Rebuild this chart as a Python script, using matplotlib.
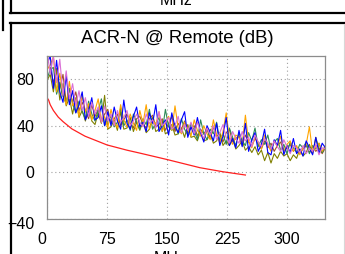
import matplotlib
matplotlib.use("Agg")
import matplotlib.pyplot as plt
from matplotlib.lines import Line2D
from matplotlib.transforms import ScaledTranslation

plt.rcParams['font.family'] = ['Liberation Sans', 'DejaVu Sans']

freq = [1, 4, 8, 12, 16, 20, 24, 28, 32, 36, 40, 44, 48, 52, 56, 60, 64, 68, 72, 76,
        80, 84, 88, 92, 96, 100, 104, 108, 112, 116, 120, 124, 128, 132, 136, 140, 144, 148, 152, 156,
        160, 164, 168, 172, 176, 180, 184, 188, 192, 196, 200, 204, 208, 212, 216, 220, 224, 228, 232, 236,
        240, 244, 248, 252, 256, 260, 264, 268, 272, 276, 280, 284, 288, 292, 296, 300, 304, 308, 312, 316,
        320, 324, 328, 332, 336, 340, 344, 348]

blue = [94, 100, 72, 96, 69, 60, 83, 58, 70, 51,
        58, 69, 45, 52, 64, 45, 47, 57, 40, 52,
        40, 56, 44, 37, 62, 42, 37, 48, 56, 39,
        43, 35, 51, 42, 58, 35, 40, 45, 32, 51,
        39, 34, 45, 52, 30, 39, 32, 47, 34, 26,
        40, 34, 27, 42, 23, 31, 47, 23, 29, 21,
        36, 22, 42, 18, 28, 34, 18, 24, 37, 17,
        15, 28, 23, 36, 15, 23, 17, 29, 16, 20,
        14, 27, 21, 15, 30, 16, 25, 21]

orange = [89, 92, 99, 69, 85, 67, 58, 78, 57, 62,
          48, 66, 52, 59, 45, 53, 63, 43, 48, 38,
          54, 43, 38, 58, 45, 39, 50, 42, 36, 53,
          42, 58, 37, 45, 41, 52, 35, 42, 48, 36,
          57, 38, 33, 43, 37, 31, 45, 36, 31, 40,
          33, 28, 45, 32, 25, 35, 51, 29, 24, 32,
          30, 24, 49, 26, 21, 30, 26, 20, 32, 24,
          18, 27, 22, 31, 18, 24, 27, 18, 23, 15,
          21, 24, 39, 17, 22, 25, 18, 23]

green = [82, 88, 90, 67, 77, 65, 59, 72, 59, 51,
         61, 52, 46, 61, 50, 44, 53, 63, 40, 45,
         48, 39, 43, 55, 40, 45, 36, 50, 43, 37,
         46, 41, 54, 37, 42, 47, 35, 54, 39, 36,
         42, 33, 46, 37, 32, 42, 36, 28, 45, 33,
         28, 37, 33, 43, 27, 33, 24, 38, 30, 23,
         34, 27, 23, 34, 27, 38, 22, 28, 24, 32,
         19, 26, 29, 19, 24, 16, 26, 21, 17, 24,
         21, 26, 16, 23, 20, 25, 17, 22]

olive = [80, 84, 69, 89, 62, 76, 57, 64, 50, 64,
         47, 53, 44, 57, 44, 41, 51, 42, 66, 37,
         39, 45, 36, 52, 37, 38, 47, 35, 43, 36,
         44, 34, 37, 47, 35, 37, 44, 33, 35, 41,
         32, 33, 38, 30, 41, 30, 31, 27, 36, 27,
         28, 33, 25, 27, 34, 23, 27, 23, 29, 20,
         23, 27, 19, 22, 17, 22, 15, 19, 10, 17,
         8, 16, 12, 18, 14, 16, 10, 15, 12, 20,
         14, 17, 24, 16, 30, 20, 17, 23]

orchid = [100, 84, 100, 77, 97, 66, 87, 63, 76, 57,
          70, 53, 64, 48, 60, 50, 56, 43, 57, 44,
          50, 40, 53, 43, 47, 53, 40, 44, 50, 43,
          39, 50, 42, 45, 38, 52, 40, 43, 47, 37,
          40, 48, 34, 41, 36, 43, 33, 43, 35, 29,
          38, 32, 40, 28, 34, 41, 30, 25, 35, 29,
          25, 35, 27, 30, 22, 32, 26, 22, 29, 25,
          20, 27, 22, 18, 28, 22, 16, 23, 21, 17,
          23, 16, 21, 18, 24, 15, 21, 20]

brown = [90, 90, 77, 87, 72, 84, 60, 71, 60, 69,
         53, 60, 53, 46, 58, 48, 54, 43, 50, 54,
         42, 46, 50, 40, 45, 50, 42, 38, 46, 48,
         41, 38, 46, 49, 39, 41, 46, 36, 42, 48,
         35, 42, 37, 44, 34, 38, 40, 31, 37, 33,
         37, 29, 39, 31, 33, 26, 34, 37, 26, 29,
         31, 23, 32, 26, 23, 29, 25, 20, 27, 21,
         25, 18, 23, 26, 18, 21, 24, 18, 22, 16,
         20, 23, 17, 22, 18, 21, 16, 21]

limit_freq = [1, 2, 4, 8, 14, 20, 31, 47.5, 64, 75, 100, 116, 150, 191, 220, 248]
limit_db = [63, 62, 58, 53, 47.4, 43.5, 37.3, 31, 26.5, 23.5, 19, 16.5, 11, 4, 0.5, -2.3]

series = [("#A0522D", brown), ("#808000", olive), ("#2E8B57", green),
          ("#FFA500", orange), ("#0000FF", blue), ("#DA70D6", orchid)]

W, H = 345, 254
fig = plt.figure(figsize=(W / 100, H / 100), dpi=100)
ax = fig.add_axes([47 / W, (H - 219) / H, 278 / W, 163.3 / H])

for color, vals in series:
    ax.plot(freq, vals, color=color, lw=0.8)
ax.plot(limit_freq, limit_db, color="#FF2020", lw=0.9)

ax.set_xlim(0, 347.5)
ax.set_ylim(-40, 100)
ax.set_xticks([0, 75, 150, 225, 300])
ax.set_yticks([-40, 0, 40, 80])
ax.tick_params(length=0, labelsize=11.5, pad=9, colors="black")
ax.grid(True, linestyle=(0, (1, 2.5)), color="#A0A0A0", lw=0.8)
for s in ax.spines.values():
    s.set_color("#8C8C8C")
    s.set_linewidth(0.9)

# MATLAB-like label offsets
xl = ax.get_xticklabels()
xl[0].set_transform(xl[0].get_transform() + ScaledTranslation(-5 / 100, 0, fig.dpi_scale_trans))
yl = ax.get_yticklabels()
yl[0].set_transform(yl[0].get_transform() + ScaledTranslation(0, -4 / 100, fig.dpi_scale_trans))

fig.text(177 / W, (H - 43) / H, "ACR-N @ Remote (dB)", ha="center", va="baseline", fontsize=13.3)
fig.text(170 / W, (H - 263) / H, "MHz", ha="center", va="baseline", fontsize=11.5)
fig.text(176 / W, (H - 5) / H, "MHz", ha="center", va="baseline", fontsize=11.5)

def px_line(xs, ys, color="black", lw=1.6):
    fig.add_artist(Line2D([x / W for x in xs], [(H - y) / H for y in ys],
                          color=color, lw=lw, transform=fig.transFigure))

px_line([3, 3], [0, 30])
px_line([10.5, 10.5], [0, 13])
px_line([10, 345], [13, 13])
px_line([10, 345], [23, 23])
px_line([10.5, 10.5], [23, 254])
px_line([344, 344], [24, 254], color="#D8D8D8", lw=0.8)

fig.savefig("out.png", dpi=100)
